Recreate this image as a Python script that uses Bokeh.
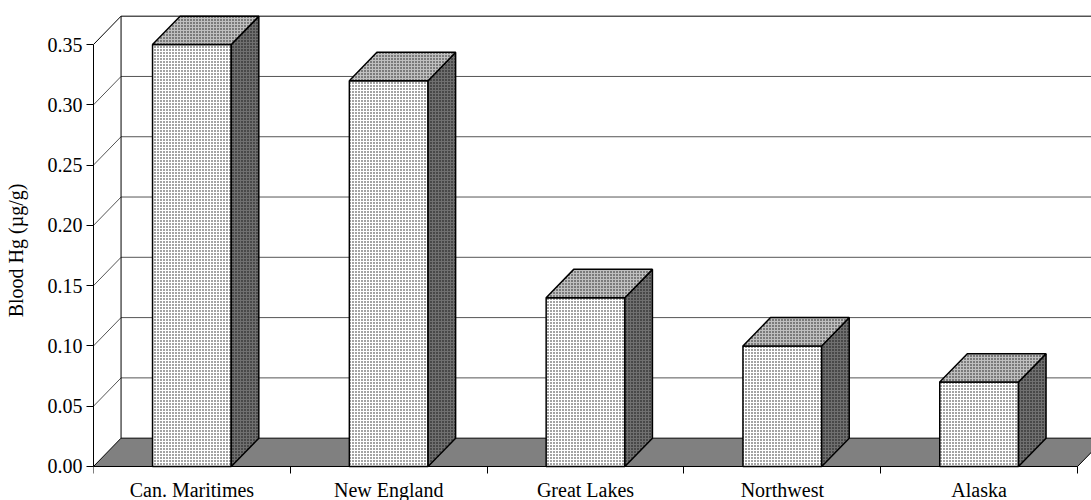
from bokeh.plotting import figure
from bokeh.models import ColumnDataSource, FixedTicker, NumeralTickFormatter, Range1d
from bokeh.embed import file_html
from bokeh.resources import INLINE

# Mean blood mercury by region
regions = ["Can. Maritimes", "New England", "Great Lakes", "Northwest", "Alaska"]
blood_hg = [0.35, 0.32, 0.14, 0.10, 0.07]
y_ticks = [0.00, 0.05, 0.10, 0.15, 0.20, 0.25, 0.30, 0.35]

# pseudo-3D geometry (data units)
BAR_W = 0.4              # front face width, fraction of a category slot
DX, DY = 0.140, 0.0235   # depth offset of the back wall
Y_TOP = 0.35
N = len(regions)

FONT = "Liberation Serif"

p = figure(width=1091, height=500, output_backend="svg", toolbar_location=None,
           x_range=Range1d(0, 5.071), y_range=Range1d(-0.0282, 0.3865),
           min_border_left=93, min_border_right=0, min_border_top=0,
           min_border_bottom=0)
p.outline_line_color = None
p.grid.visible = False
p.background_fill_color = "white"
p.border_fill_color = "white"

# floor
p.patch([0, N, N + DX, DX], [0, 0, DY, DY], fill_color="#808080",
        line_color="black", line_width=1)

# back-wall gridlines and side-wall diagonals
for v in y_ticks[1:]:
    col = "black" if v == Y_TOP else "#555555"
    p.line([DX, N + DX], [v + DY, v + DY], line_color=col, line_width=1)
    p.line([0, DX], [v, v + DY], line_color=col, line_width=1)
p.line([DX, DX], [DY, Y_TOP + DY], line_color="black", line_width=1)

# bars
centers = [i + 0.5 for i in range(N)]
lefts = [c - BAR_W / 2 for c in centers]
rights = [c + BAR_W / 2 for c in centers]

front = ColumnDataSource(dict(left=lefts, right=rights, top=blood_hg,
                              bottom=[0] * N))
side = ColumnDataSource(dict(
    xs=[[r, r + DX, r + DX, r] for r in rights],
    ys=[[0, DY, v + DY, v] for v in blood_hg]))
top = ColumnDataSource(dict(
    xs=[[l, r, r + DX, l + DX] for l, r in zip(lefts, rights)],
    ys=[[v, v, v + DY, v + DY] for v in blood_hg]))

hatch = dict(hatch_pattern="dot", hatch_color="black", hatch_scale=3,
             hatch_weight=1, hatch_alpha=0.9)
p.quad(left="left", right="right", top="top", bottom="bottom", source=front,
       fill_color="white", line_color="black", line_width=1.5, **hatch)
p.patches("xs", "ys", source=side, fill_color="#707070", line_color="black",
          line_width=1.5, **hatch)
p.patches("xs", "ys", source=top, fill_color="#c0c0c0", line_color="black",
          line_width=1.5, **hatch)

# y axis
ya = p.yaxis[0]
ya.ticker = FixedTicker(ticks=y_ticks)
ya.formatter = NumeralTickFormatter(format="0.00")
ya.bounds = (0, Y_TOP)
ya.axis_label = "Blood Hg (µg/g)"
ya.axis_label_text_font = FONT
ya.axis_label_text_font_size = "20px"
ya.axis_label_text_font_style = "normal"
ya.axis_label_text_color = "black"
ya.axis_label_standoff = 18
ya.major_label_text_font = FONT
ya.major_label_text_font_size = "20px"
ya.major_label_text_color = "black"
ya.major_label_standoff = 4
ya.major_tick_out = 7
ya.major_tick_in = 0
ya.minor_tick_line_color = None
ya.axis_line_color = "black"
ya.major_tick_line_color = "black"

# x axis pinned at zero: labels at slot centres, ticks at slot boundaries
xa = p.xaxis[0]
xa.fixed_location = 0
xa.ticker = FixedTicker(ticks=centers, minor_ticks=list(range(N + 1)))
xa.major_label_overrides = {c: name for c, name in zip(centers, regions)}
xa.bounds = (0, N)
xa.major_label_text_font = FONT
xa.major_label_text_font_size = "20px"
xa.major_label_text_color = "black"
xa.major_label_standoff = 6
xa.major_tick_out = 0
xa.major_tick_in = 0
xa.minor_tick_out = 7
xa.minor_tick_in = 0
xa.minor_tick_line_color = "black"
xa.axis_line_color = "black"

open("out.html", "w").write(file_html(p, INLINE))
